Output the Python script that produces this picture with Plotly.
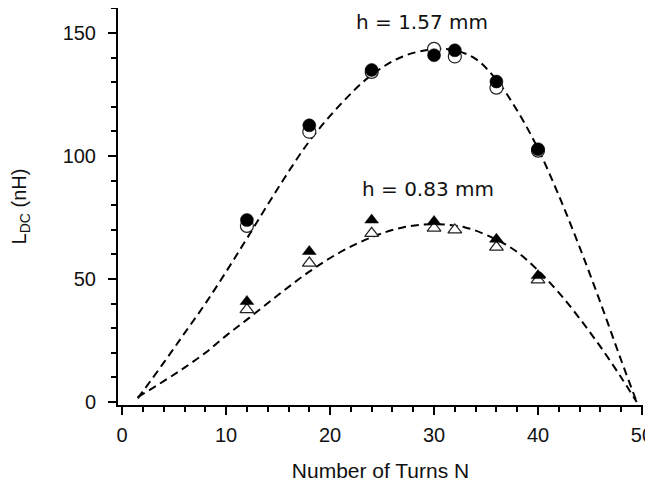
import plotly.graph_objects as go

# Measured data (Number of turns N vs L_DC in nH)
n_circ = [12, 18, 24, 30, 32, 36, 40]
l_circ_filled = [74.0, 112.5, 135.0, 141.0, 143.0, 130.3, 102.8]
l_circ_open = [71.6, 109.9, 134.2, 143.6, 140.5, 127.8, 102.2]

n_tri_filled = [12, 18, 24, 30, 36, 40]
l_tri_filled = [40.9, 61.2, 74.0, 73.4, 66.2, 51.4]
n_tri_open = [12, 18, 24, 30, 32, 36, 40]
l_tri_open = [37.6, 56.5, 68.6, 70.7, 70.0, 63.0, 49.7]

# Fitted dashed curves
fit_n = [1.5, 4, 6, 8, 10, 12, 15, 18, 21, 24, 27, 30, 32, 34, 36, 38, 40, 42, 44, 46, 48, 49.5]
fit_hi = [1.5, 16, 28, 40, 53, 66.5, 87, 106, 121, 133, 140.5, 143.5, 143, 139.5, 131, 118.5, 103, 84, 63, 40.5, 17, 0]
fit_lo_n = [1.5, 4, 6, 8, 10, 12, 15, 18, 21, 24, 27, 30, 33, 36, 38, 40, 42, 44, 46, 48, 49.5]
fit_lo = [2, 8.5, 14, 20, 27, 33.5, 43.5, 53, 61, 67, 71, 72.3, 71, 66, 61, 53.5, 44.5, 34, 22.5, 10, 0]

labels = ["h = 1.57 mm", "h = 0.83 mm"]
label_x = [28.8, 29.4]
label_y = [154.5, 86.5]

x_ticks = [0, 10, 20, 30, 40, 50]
y_ticks = [0, 50, 100, 150]

fig = go.Figure()

dash_line = dict(color="black", width=2, dash="8px,5px")
fig.add_trace(go.Scatter(x=fit_n, y=fit_hi, mode="lines", line=dict(shape="spline", **dash_line),
                         hoverinfo="skip", showlegend=False))
fig.add_trace(go.Scatter(x=fit_lo_n, y=fit_lo, mode="lines", line=dict(shape="spline", **dash_line),
                         hoverinfo="skip", showlegend=False))

fig.add_trace(go.Scatter(x=n_circ, y=l_circ_open, mode="markers",
                         marker=dict(symbol="circle", size=13, color="white",
                                     line=dict(color="#222", width=1.2)), showlegend=False))
fig.add_trace(go.Scatter(x=n_circ, y=l_circ_filled, mode="markers",
                         marker=dict(symbol="circle", size=13, color="black",
                                     line=dict(color="black", width=0.5)), showlegend=False))
fig.add_trace(go.Scatter(x=n_tri_open, y=l_tri_open, mode="markers",
                         marker=dict(symbol="triangle-up", size=12, color="white",
                                     line=dict(color="#222", width=1.2)), showlegend=False))
fig.add_trace(go.Scatter(x=n_tri_filled, y=l_tri_filled, mode="markers",
                         marker=dict(symbol="triangle-up", size=12, color="black",
                                     line=dict(color="black", width=0.5)), showlegend=False))

for t, x, y in zip(labels, label_x, label_y):
    fig.add_annotation(x=x, y=y, text=t, showarrow=False,
                       font=dict(family="DejaVu Sans", size=20, color="#111"))

axis_common = dict(showline=True, linecolor="black", linewidth=2, ticks="outside",
                   ticklen=8, tickwidth=2, tickcolor="black", showgrid=False, zeroline=False,
                   automargin=False, ticklabeloverflow="allow",
                   tickfont=dict(family="Liberation Sans, Arial", size=20, color="#111"))

fig.update_xaxes(range=[-0.4, 50.1], tickvals=x_ticks, ticklabelstandoff=3,
                 minor=dict(dtick=2, ticks="outside", ticklen=5, tickwidth=2, tickcolor="black"),
                 title=dict(text="Number of Turns N", standoff=18,
                            font=dict(family="Liberation Sans, Arial", size=21, color="#111")),
                 **axis_common)
fig.update_yaxes(range=[-1.2, 160.2], tickvals=y_ticks, ticklabelstandoff=8,
                 minor=dict(dtick=10, ticks="outside", ticklen=5, tickwidth=2, tickcolor="black"),
                 title=dict(text="L<sub>DC</sub> (nH)", standoff=40,
                            font=dict(family="Liberation Sans, Arial", size=20, color="#111")),
                 **axis_common)

fig.update_layout(width=653, height=495, plot_bgcolor="white", paper_bgcolor="white",
                  margin=dict(l=110, r=18, t=0, b=98), showlegend=False)

fig.write_html("out.html")
